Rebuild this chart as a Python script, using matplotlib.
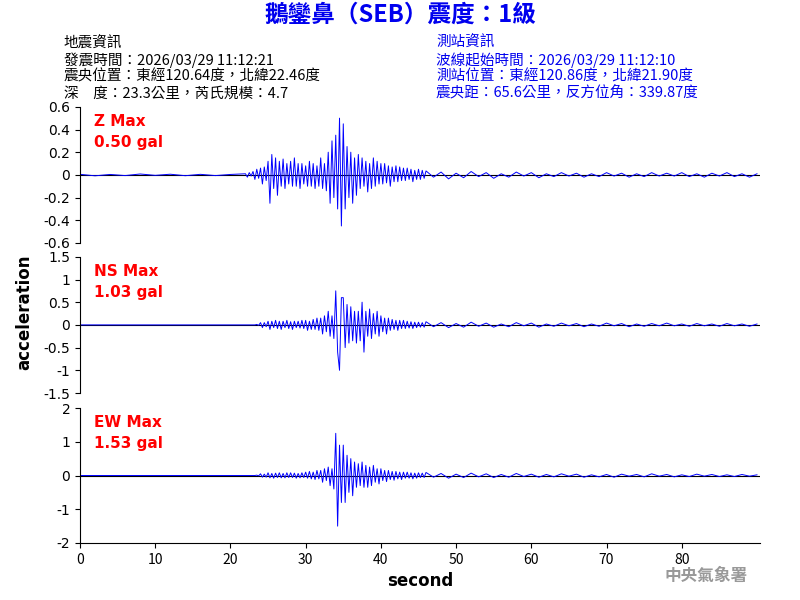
import matplotlib
matplotlib.use("Agg")
import matplotlib.pyplot as plt
import numpy as np

plt.rcParams["font.family"] = ["Noto Sans CJK TC", "DejaVu Sans"]

# sample times: coarse before arrival, fine through the strong motion, coarse in the coda
times = np.concatenate([np.arange(0, 22, 2.0), np.arange(22, 46, 0.25), np.arange(46, 90.5, 1.0)])

z_pre = [0.005, -0.008, 0.004, -0.006, 0.008, -0.004, 0.006, -0.007, 0.005, -0.006, 0.004]
z_main = [
    0.01, -0.02, 0.02, -0.01, 0.03, -0.04, 0.05, -0.03, 0.06, -0.08, 0.07, -0.05,
    0.12, -0.25, 0.18, -0.12, 0.15, -0.18, 0.12, -0.1, 0.14, -0.12, 0.1, -0.08,
    0.12, -0.1, 0.15, -0.1, 0.1, -0.12, 0.1, -0.08, 0.08, -0.1, 0.12, -0.1,
    0.1, -0.12, 0.08, -0.1, 0.15, -0.12, 0.1, -0.14, 0.2, -0.25, 0.3, -0.2,
    0.35, -0.3, 0.5, -0.45, 0.45, -0.3, 0.25, -0.2, 0.2, -0.25, 0.15, -0.18,
    0.18, -0.12, 0.15, -0.1, 0.12, -0.15, 0.1, -0.12, 0.15, -0.1, 0.12, -0.08,
    0.1, -0.08, 0.1, -0.07, 0.08, -0.1, 0.07, -0.06, 0.08, -0.06, 0.07, -0.05,
    0.06, -0.05, 0.06, -0.04, 0.05, -0.06, 0.04, -0.04, 0.05, -0.04, 0.04, -0.03,
]
z_coda = [0.035, -0.02, 0.025, -0.035, 0.015, -0.025, 0.03, -0.015, 0.02, -0.03, 0.01, -0.02,
          0.025, -0.01, 0.02, -0.025, 0.01, -0.015, 0.02, -0.01, 0.015, -0.02, 0.01, -0.015,
          0.02, -0.01, 0.015, -0.02, 0.01, -0.015, 0.02, -0.01, 0.015, -0.01, 0.02, -0.015,
          0.01, -0.02, 0.015, -0.01, 0.02, -0.015, 0.01, -0.02, 0.01]

ns_pre = [0.0] * 11
ns_main = [
    0.0, 0.0, 0.0, 0.0, 0.0, 0.0, 0.01, -0.01, 0.05, -0.06, 0.05, -0.04,
    0.08, -0.1, 0.08, -0.06, 0.1, -0.08, 0.08, -0.1, 0.08, -0.06, 0.1, -0.08,
    0.07, -0.1, 0.08, -0.06, 0.08, -0.07, 0.1, -0.08, 0.1, -0.12, 0.08, -0.1,
    0.12, -0.1, 0.15, -0.12, 0.15, -0.2, 0.2, -0.15, 0.3, -0.25, 0.2, -0.3,
    0.75, -0.6, -1.0, 0.6, 0.6, -0.5, 0.45, -0.4, 0.4, -0.35, 0.3, -0.4,
    0.3, -0.35, 0.5, -0.6, 0.3, -0.25, 0.35, -0.3, 0.25, -0.2, 0.3, -0.25,
    0.2, -0.15, 0.15, -0.2, 0.15, -0.12, 0.12, -0.1, 0.1, -0.12, 0.1, -0.08,
    0.1, -0.08, 0.08, -0.07, 0.07, -0.08, 0.06, -0.06, 0.06, -0.05, 0.05, -0.05,
]
ns_coda = [0.07, -0.04, 0.05, -0.06, 0.03, -0.05, 0.06, -0.03, 0.04, -0.05, 0.02, -0.04,
           0.05, -0.02, 0.04, -0.05, 0.02, -0.03, 0.04, -0.02, 0.03, -0.04, 0.02, -0.03,
           0.04, -0.02, 0.03, -0.04, 0.02, -0.03, 0.03, -0.02, 0.04, -0.02, 0.02, -0.03,
           0.03, -0.02, 0.02, -0.03, 0.03, -0.02, 0.02, -0.03, 0.02]

ew_pre = [0.0] * 11
ew_main = [
    0.0, 0.0, 0.0, 0.0, 0.0, 0.0, 0.01, -0.01, 0.05, -0.05, 0.04, -0.05,
    0.08, -0.07, 0.06, -0.08, 0.07, -0.06, 0.08, -0.07, 0.06, -0.07, 0.08, -0.06,
    0.08, -0.06, 0.07, -0.08, 0.06, -0.07, 0.08, -0.06, 0.1, -0.08, 0.12, -0.1,
    0.1, -0.12, 0.15, -0.1, 0.15, -0.2, 0.2, -0.15, 0.25, -0.3, 0.2, -0.4,
    1.25, -1.5, 0.9, -0.8, 0.9, -0.8, 0.6, -0.5, 0.5, -0.6, 0.4, -0.35,
    0.35, -0.3, 0.4, -0.35, 0.3, -0.35, 0.25, -0.3, 0.3, -0.2, 0.2, -0.25,
    0.2, -0.15, 0.15, -0.18, 0.15, -0.12, 0.12, -0.14, 0.12, -0.1, 0.1, -0.12,
    0.1, -0.08, 0.1, -0.08, 0.08, -0.1, 0.07, -0.08, 0.08, -0.06, 0.07, -0.06,
]
ew_coda = [0.09, -0.05, 0.06, -0.08, 0.04, -0.06, 0.07, -0.04, 0.05, -0.06, 0.03, -0.05,
           0.06, -0.03, 0.04, -0.05, 0.03, -0.04, 0.05, -0.02, 0.04, -0.05, 0.02, -0.04,
           0.03, -0.05, 0.04, -0.02, 0.03, -0.04, 0.05, -0.02, 0.03, -0.04, 0.02, -0.03,
           0.04, -0.02, 0.03, -0.03, 0.02, -0.03, 0.03, -0.02, 0.02]

traces = [z_pre + z_main + z_coda, ns_pre + ns_main + ns_coda, ew_pre + ew_main + ew_coda]
labels = ["Z Max\n0.50 gal", "NS Max\n1.03 gal", "EW Max\n1.53 gal"]
ylims = [(-0.6, 0.6), (-1.5, 1.5), (-2, 2)]
yticks = [np.arange(-0.6, 0.61, 0.2), np.arange(-1.5, 1.51, 0.5), np.arange(-2, 2.1, 1)]

fig = plt.figure(figsize=(8, 6), dpi=100)
panels = [(0.595, 0.227), (0.345, 0.227), (0.095, 0.225)]
for i, (bottom, h) in enumerate(panels):
    ax = fig.add_axes([0.1, bottom, 0.85, h])
    ax.axhline(0, color="black", lw=0.8)
    ax.plot(times, traces[i], color="blue", lw=0.7)
    ax.set_xlim(0, 90.4)
    ax.set_ylim(*ylims[i])
    ax.set_yticks(yticks[i])
    ax.set_yticklabels([f"{v:g}" for v in np.round(yticks[i], 1)], fontsize=10, family="DejaVu Sans")
    for s in ["top", "right"]:
        ax.spines[s].set_visible(False)
    if i < 2:
        ax.spines["bottom"].set_visible(False)
        ax.set_xticks([])
    else:
        ax.set_xticks(range(0, 90, 10))
        ax.tick_params(labelsize=10)
        ax.set_xlabel("second", fontsize=12, fontweight="bold", family="DejaVu Sans")
    ax.text(0.02, 0.95, labels[i], transform=ax.transAxes, color="red", fontsize=11,
            fontweight="bold", va="top", family="DejaVu Sans", linespacing=1.5)

fig.text(0.03, 0.48, "acceleration", rotation=90, ha="center", va="center",
         fontsize=12, fontweight="bold", family="DejaVu Sans")

fig.suptitle("鵝鑾鼻（SEB）震度：1級", x=0.5, y=0.995, color="#0000ee", fontsize=17, fontweight="bold")

left_lines = ["地震資訊", "發震時間：2026/03/29 11:12:21", "震央位置：東經120.64度，北緯22.46度",
              "深　度：23.3公里，芮氏規模：4.7"]
right_lines = ["測站資訊", "波線起始時間：2026/03/29 11:12:10", "測站位置：東經120.86度，北緯21.90度",
               "震央距：65.6公里，反方位角：339.87度"]
for j, (l, r) in enumerate(zip(left_lines, right_lines)):
    y = 0.928 - j * 0.028
    fig.text(0.08, y, l, fontsize=10.5, fontweight="medium", color="black", va="center")
    fig.text(0.545, y, r, fontsize=10.5, fontweight="medium", color="#0000ee", va="center")

fig.text(0.935, 0.032, "中央氣象署", color="#999999", fontsize=12, fontweight="bold", ha="right")

fig.savefig("out.png", dpi=100)
